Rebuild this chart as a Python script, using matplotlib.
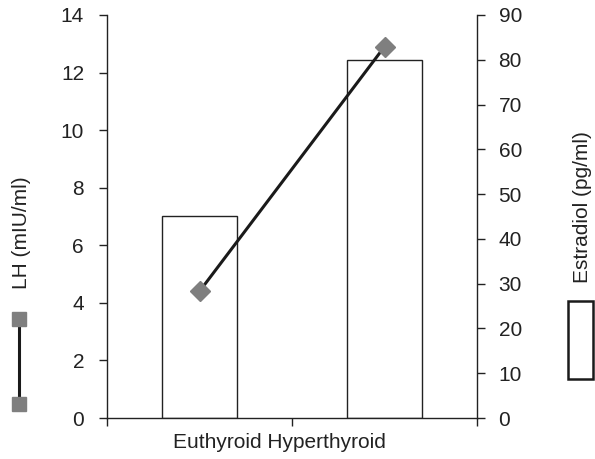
import matplotlib
matplotlib.use("Agg")
import matplotlib.pyplot as plt
from matplotlib.lines import Line2D
from matplotlib.patches import Rectangle

plt.rcParams['font.family'] = ['Liberation Sans', 'DejaVu Sans']

categories = ["Euthyroid", "Hyperthyroid"]
lh_values = [4.4, 12.9]            # LH (mIU/ml), left axis
estradiol_values = [45, 80]        # Estradiol (pg/ml), right axis
lh_ticks = [0, 2, 4, 6, 8, 10, 12, 14]
estradiol_ticks = [0, 10, 20, 30, 40, 50, 60, 70, 80, 90]

W, H = 595, 459
FS = 15
fig = plt.figure(figsize=(W / 100, H / 100), dpi=100)
ax = fig.add_axes([107 / W, 1 - 418 / H, (477 - 107) / W, (418 - 15) / H])
ax2 = ax.twinx()

ink = "#222222"
x = list(range(len(categories)))

# Estradiol bars on the right axis
ax2.bar(x, estradiol_values, width=0.405, color="white", edgecolor=ink, linewidth=1.0)
ax2.set_ylim(0, 90)
ax2.set_yticks(estradiol_ticks)

# LH line on the left axis, drawn above the bars
ax.set_zorder(ax2.get_zorder() + 1)
ax.patch.set_visible(False)
ax.plot(x, lh_values, color="#1a1a1a", linewidth=2.2, marker="D", markersize=10,
        markerfacecolor="#7f7f7f", markeredgecolor="#7f7f7f", zorder=3)
ax.set_ylim(0, 14)
ax.set_yticks(lh_ticks)
ax.set_xlim(-0.5, len(categories) - 0.5)

# category boundary ticks on the x axis, single centred label line
ax.set_xticks([])
ax.set_xticks([i - 0.5 for i in range(len(categories) + 1)], minor=True)
ax.tick_params(axis="x", which="minor", length=6, width=1, color=ink)
ax.text(0.466, -0.062, " ".join(categories), transform=ax.transAxes,
        ha="center", va="center", fontsize=FS, color=ink)

for a in (ax, ax2):
    a.spines["top"].set_visible(False)
    for s in ("left", "right", "bottom"):
        a.spines[s].set_color(ink)
        a.spines[s].set_linewidth(1.0)
ax.spines["right"].set_visible(False)
ax2.spines["left"].set_visible(False)
ax2.spines["bottom"].set_visible(False)

ax.tick_params(axis="y", length=6, width=1, color=ink, pad=10.5, labelsize=FS, labelcolor=ink)
ax2.tick_params(axis="y", length=6, width=1, color=ink, pad=9.5, labelsize=FS, labelcolor=ink)

# axis titles with their legend keys
fig.text(22 / W, 1 - 233 / H, "LH (mIU/ml)", rotation=90, ha="center", va="center",
         fontsize=FS, color=ink)
fig.add_artist(Line2D([19 / W, 19 / W], [1 - 319 / H, 1 - 404 / H], transform=fig.transFigure,
                      color="#1a1a1a", linewidth=2.2, marker="s", markersize=10,
                      markerfacecolor="#7f7f7f", markeredgecolor="#7f7f7f"))

fig.text(582 / W, 1 - 207 / H, "Estradiol (pg/ml)", rotation=90, ha="center", va="center",
         fontsize=FS, color=ink)
fig.add_artist(Rectangle((568 / W, 1 - 379 / H), 25 / W, 78 / H, transform=fig.transFigure,
                         facecolor="white", edgecolor="#1a1a1a", linewidth=1.8))

fig.savefig("out.png", dpi=100)
